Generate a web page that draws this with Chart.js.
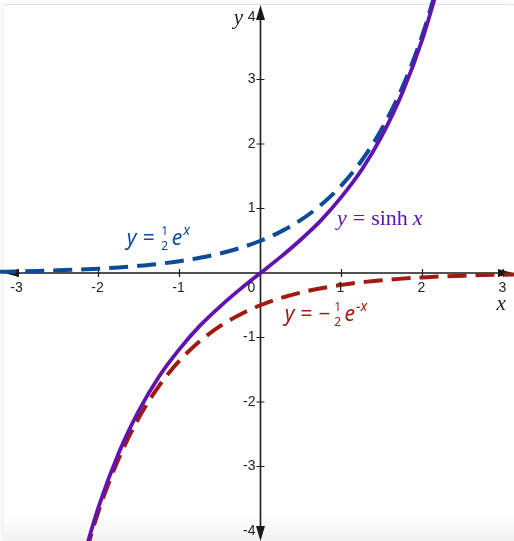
<!DOCTYPE html>
<html>
<head>
<meta charset="utf-8">
<style>
  body {
    margin: 0;
    padding: 0;
    background: #ffffff;
    width: 514px;
    height: 541px;
    overflow: hidden;
    position: relative;
  }
  .frame {
    position: absolute;
    left: 4px;
    top: 4px;
    width: 510px;
    height: 537px;
    border-top: 1px solid #e2e2e2;
    box-shadow: -3px 0 5px rgba(0, 0, 0, 0.06);
    background: linear-gradient(to bottom, #ffffff 0%, #ffffff 95%, #f1f1f1 100%);
  }
  #chart {
    position: absolute;
    left: 0;
    top: 0;
  }
</style>
</head>
<body>
  <div class="frame"></div>
  <canvas id="chart" width="514" height="541"></canvas>

  <script src="https://cdn.jsdelivr.net/npm/chart.js"></script>
  <script>
    // x positions of the sampled points
    const xs = [-3.25, -3, -2.75, -2.5, -2.25, -2, -1.75, -1.5, -1.25, -1, -0.75, -0.5, -0.25,
                0, 0.25, 0.5, 0.75, 1, 1.25, 1.5, 1.75, 2, 2.25, 2.5, 2.75, 3, 3.25];

    // y = sinh x
    const sinhY = [null, null, null, null, -4.69, -3.63, -2.79, -2.13, -1.60, -1.18, -0.82, -0.52, -0.25,
                   0, 0.25, 0.52, 0.82, 1.18, 1.60, 2.13, 2.79, 3.63, 4.69, null, null, null, null];

    // y = 1/2 e^x
    const halfExpY = [0.019, 0.025, 0.032, 0.041, 0.053, 0.068, 0.087, 0.112, 0.143, 0.184, 0.236, 0.303, 0.389,
                      0.5, 0.642, 0.824, 1.059, 1.359, 1.745, 2.241, 2.877, 3.695, 4.744, null, null, null, null];

    // y = -1/2 e^-x
    const negHalfExpY = [null, null, null, null, -4.744, -3.695, -2.877, -2.241, -1.745, -1.359, -1.059, -0.824, -0.642,
                         -0.5, -0.389, -0.303, -0.236, -0.184, -0.143, -0.112, -0.087, -0.068, -0.053, -0.041, -0.032, -0.025, -0.019];

    const xTicks = [-3, -2, -1, 1, 2, 3];
    const yTicks = [-4, -3, -2, -1, 1, 2, 3, 4];

    const purple = '#6013ae';
    const blue = '#0d4a98';
    const red = '#a11a10';

    function toPoints(ys) {
      return xs.map((x, i) => ({ x: x, y: ys[i] }));
    }

    // Axes through the origin, with arrows and crossing tick marks
    const axesPlugin = {
      id: 'axes',
      beforeDatasetsDraw(chart) {
        const ctx = chart.ctx;
        const sx = chart.scales.x, sy = chart.scales.y;
        const ox = sx.getPixelForValue(0), oy = sy.getPixelForValue(0);
        const area = chart.chartArea;
        ctx.save();
        ctx.strokeStyle = '#1a1a1a';
        ctx.fillStyle = '#1a1a1a';
        ctx.lineWidth = 1.6;

        ctx.beginPath();
        ctx.moveTo(area.left + 10, oy);
        ctx.lineTo(area.right - 10, oy);
        ctx.moveTo(ox, area.top + 14);
        ctx.lineTo(ox, area.bottom - 8);
        ctx.stroke();

        // arrow heads
        ctx.beginPath();
        ctx.moveTo(area.left + 4, oy);
        ctx.lineTo(area.left + 19, oy - 4);
        ctx.lineTo(area.left + 19, oy + 4);
        ctx.closePath();
        ctx.moveTo(area.right - 1, oy);
        ctx.lineTo(area.right - 16, oy - 4);
        ctx.lineTo(area.right - 16, oy + 4);
        ctx.closePath();
        ctx.moveTo(ox, area.top + 5);
        ctx.lineTo(ox - 4.5, area.top + 20);
        ctx.lineTo(ox + 4.5, area.top + 20);
        ctx.closePath();
        ctx.moveTo(ox, area.bottom);
        ctx.lineTo(ox - 4.5, area.bottom - 15);
        ctx.lineTo(ox + 4.5, area.bottom - 15);
        ctx.closePath();
        ctx.fill();

        // tick marks
        ctx.lineWidth = 1.2;
        ctx.beginPath();
        xTicks.forEach(v => {
          const p = sx.getPixelForValue(v);
          ctx.moveTo(p, oy - 4);
          ctx.lineTo(p, oy + 4);
        });
        yTicks.forEach(v => {
          if (Math.abs(v) === 4) return;
          const p = sy.getPixelForValue(v);
          ctx.moveTo(ox - 4, p);
          ctx.lineTo(ox + 4, p);
        });
        ctx.stroke();
        ctx.restore();
      },
      afterDatasetsDraw(chart) {
        const ctx = chart.ctx;
        const sx = chart.scales.x, sy = chart.scales.y;
        const ox = sx.getPixelForValue(0), oy = sy.getPixelForValue(0);
        ctx.save();
        ctx.fillStyle = '#222';
        ctx.font = '14px "Liberation Sans", Arial, sans-serif';
        ctx.textBaseline = 'middle';

        ctx.textAlign = 'center';
        xTicks.forEach(v => {
          ctx.fillText(String(v), sx.getPixelForValue(v) - 1, oy + 15);
        });
        ctx.fillText('0', ox - 9, oy + 15);

        ctx.textAlign = 'right';
        yTicks.forEach(v => {
          let p = sy.getPixelForValue(v);
          if (v === 4) p += 2;
          ctx.fillText(String(v), ox - 5, p);
        });

        // axis names
        ctx.font = 'italic 21px "Liberation Serif", "DejaVu Serif", serif';
        ctx.textAlign = 'center';
        ctx.fillText('x', sx.getPixelForValue(2.97), oy + 31);
        ctx.fillText('y', ox - 22, 18);

        // curve labels
        drawMath(ctx, sx.getPixelForValue(-1.65), sy.getPixelForValue(0.44), blue, 'half');
        drawMath(ctx, sx.getPixelForValue(0.30), sy.getPixelForValue(-0.74), red, 'neghalf');
        drawSinh(ctx, sx.getPixelForValue(0.945), sy.getPixelForValue(0.74));
        ctx.restore();
      }
    };

    function drawMath(ctx, x, y, color, kind) {
      const it = 'italic 21px "Noto Sans", "DejaVu Sans", sans-serif';
      const up = '21px "Noto Sans", "DejaVu Sans", sans-serif';
      const small = '12px "Noto Sans", "DejaVu Sans", sans-serif';
      const supIt = 'italic 14px "Noto Sans", "DejaVu Sans", sans-serif';
      ctx.fillStyle = color;
      ctx.textAlign = 'left';
      ctx.textBaseline = 'alphabetic';
      let cx = x;
      ctx.font = it;
      ctx.fillText('y', cx, y);
      cx += ctx.measureText('y').width + 6;
      ctx.font = up;
      ctx.fillText('=', cx, y);
      cx += ctx.measureText('=').width + 6;
      if (kind === 'neghalf') {
        ctx.fillText('\u2212', cx, y);
        cx += ctx.measureText('\u2212').width + 3;
      }
      ctx.font = small;
      ctx.textAlign = 'center';
      ctx.fillText('1', cx + 4, y - 10);
      ctx.fillText('2', cx + 4, y + 5);
      ctx.textAlign = 'left';
      cx += 11;
      ctx.font = it;
      ctx.fillText('e', cx, y);
      cx += ctx.measureText('e').width + 1;
      ctx.font = supIt;
      ctx.fillText(kind === 'neghalf' ? '\u2212x' : 'x', cx, y - 10);
    }

    function drawSinh(ctx, x, y) {
      ctx.fillStyle = purple;
      ctx.textAlign = 'left';
      ctx.textBaseline = 'alphabetic';
      let cx = x;
      ctx.font = 'italic 22px "Liberation Serif", "DejaVu Serif", serif';
      ctx.fillText('y', cx, y);
      cx += ctx.measureText('y').width + 6;
      ctx.font = '22px "Liberation Serif", "DejaVu Serif", serif';
      ctx.fillText('=', cx, y);
      cx += ctx.measureText('=').width + 6;
      ctx.fillText('sinh', cx, y);
      cx += ctx.measureText('sinh').width + 5;
      ctx.font = 'italic 22px "Liberation Serif", "DejaVu Serif", serif';
      ctx.fillText('x', cx, y);
    }

    new Chart(document.getElementById('chart').getContext('2d'), {
      type: 'scatter',
      data: {
        datasets: [
          {
            label: 'y = sinh x',
            data: toPoints(sinhY),
            borderColor: purple,
            borderWidth: 3.8,
            showLine: true,
            pointRadius: 0,
            cubicInterpolationMode: 'monotone'
          },
          {
            label: 'y = 1/2 e^x',
            data: toPoints(halfExpY),
            borderColor: blue,
            borderWidth: 4,
            borderDash: [19, 9],
            showLine: true,
            pointRadius: 0,
            cubicInterpolationMode: 'monotone'
          },
          {
            label: 'y = -1/2 e^-x',
            data: toPoints(negHalfExpY),
            borderColor: red,
            borderWidth: 4,
            borderDash: [19, 9],
            showLine: true,
            pointRadius: 0,
            cubicInterpolationMode: 'monotone'
          }
        ]
      },
      options: {
        responsive: false,
        animation: false,
        layout: { padding: 0 },
        plugins: {
          legend: { display: false },
          tooltip: { enabled: false }
        },
        scales: {
          x: { type: 'linear', min: -3.216, max: 3.13, display: false },
          y: { type: 'linear', min: -4.155, max: 4.233, display: false }
        }
      },
      plugins: [axesPlugin]
    });
  </script>
</body>
</html>
